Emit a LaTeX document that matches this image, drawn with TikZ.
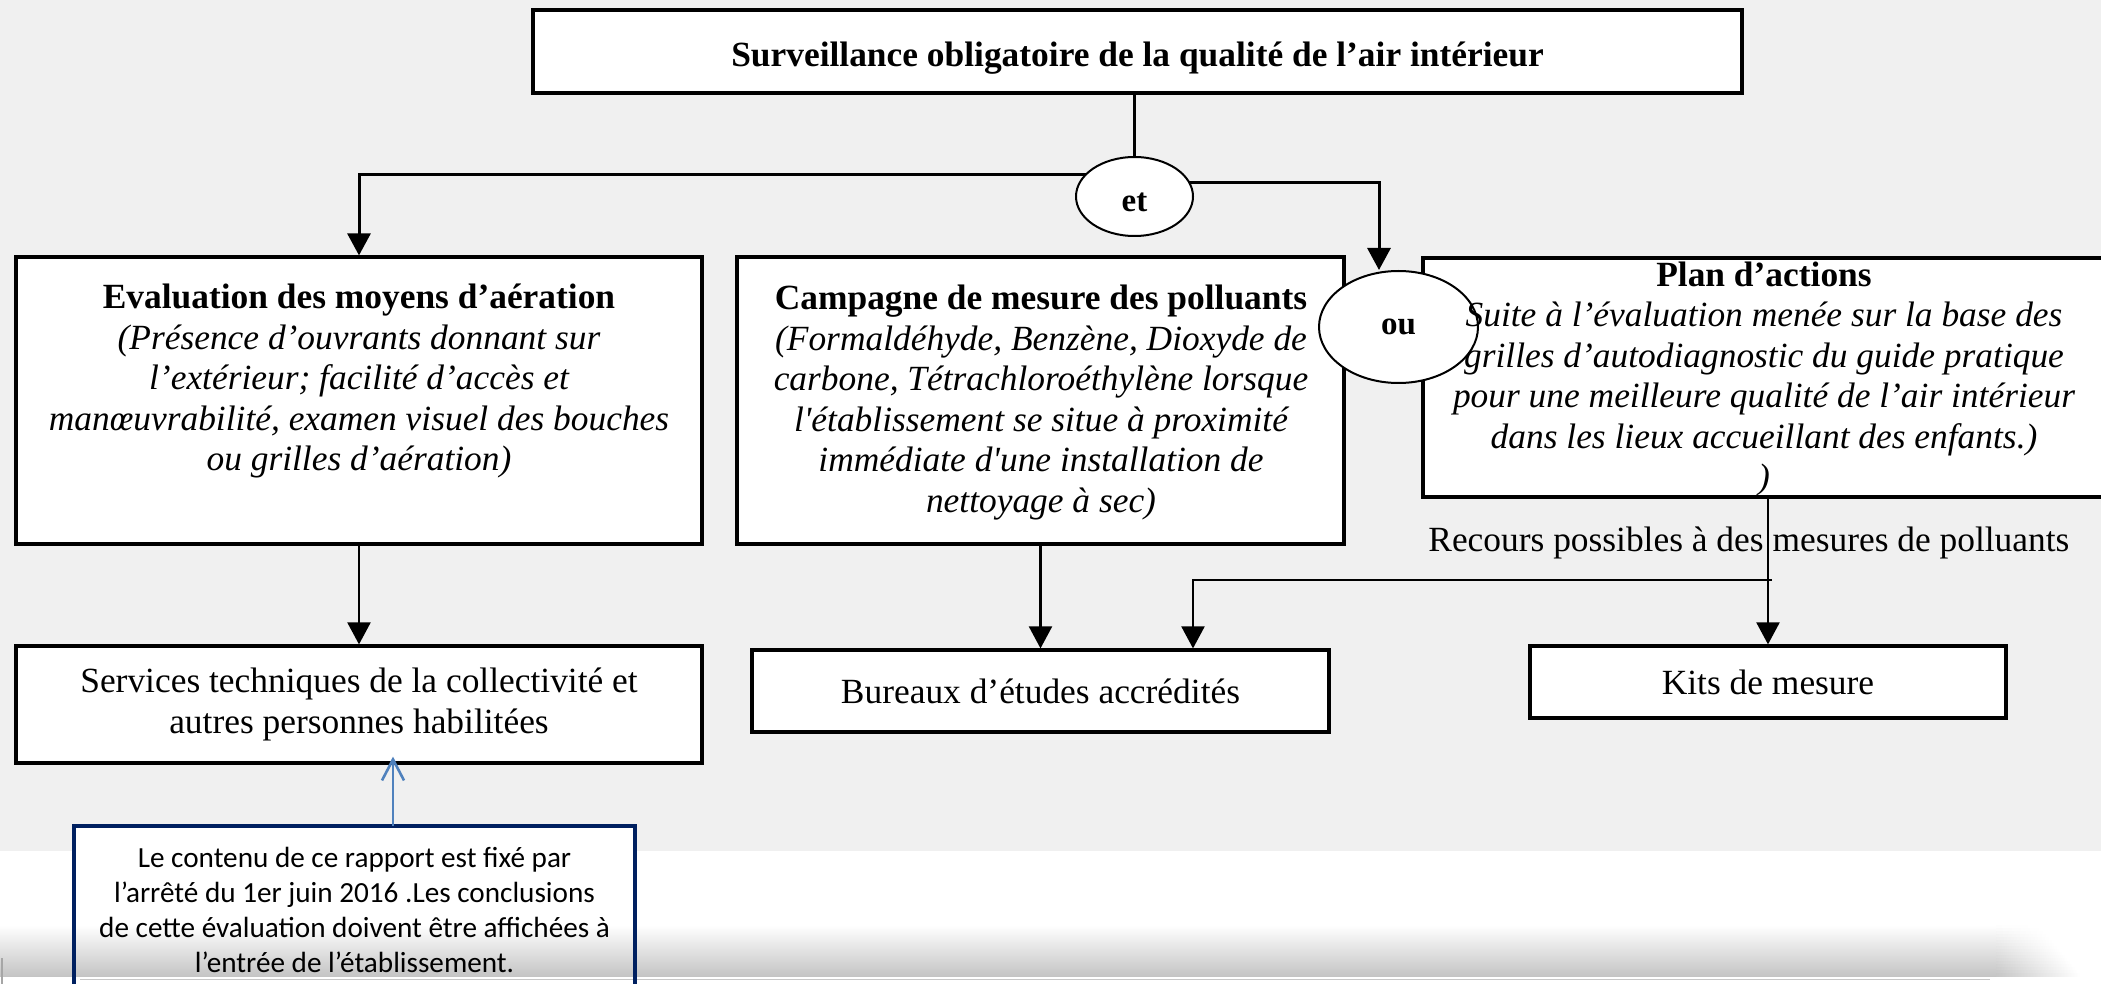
\documentclass[tikz,border=0pt]{standalone}
\usepackage{fontspec}
\setmainfont{Liberation Serif}[Ligatures=TeXOff]
\newfontfamily\calibri{Carlito}
\usetikzlibrary{shapes.geometric,arrows.meta,calc}
\pgfdeclarelayer{bg}
\pgfdeclarelayer{conn}
\pgfsetlayers{bg,conn,main}
\definecolor{bggray}{RGB}{240,240,240}
\definecolor{navy}{RGB}{0,32,96}
\definecolor{offblue}{RGB}{79,129,189}
\begin{document}
\begin{tikzpicture}[x=0.5pt,y=-0.5pt,
  box/.style={draw, line width=1.6pt, fill=white, inner sep=0pt, rectangle, align=center,
    font=\fontsize{17.7}{20.25}\selectfont},
  txt/.style={inner sep=0pt, align=center, font=\fontsize{17.7}{20.25}\selectfont},
  oval/.style={ellipse, draw, fill=white, line width=1pt, inner sep=0pt,
    font=\fontsize{16.5}{18}\selectfont\bfseries},
  arr/.style={-{Triangle[length=11pt,width=11.5pt]}},
  lnup/.style={line width=1.5pt},
  ln/.style={line width=1.1pt}]
\useasboundingbox (0,0) rectangle (2101,984);
\clip (0,0) rectangle (2101,984);
\begin{pgfonlayer}{bg}
\fill[bggray] (0,0) rectangle (2101,851);
\end{pgfonlayer}

% top box
\node[box, minimum width=604.5pt, minimum height=41.5pt] (top) at (1137.5,51.5) {};
\node[txt, font=\fontsize{17.7}{20.25}\selectfont\bfseries] (toptext) at (1137.5,58)
  {Surveillance obligatoire de la qualité de l’air intérieur};

% three main boxes
\node[box, minimum width=343pt, minimum height=143.5pt] (lbox) at (359,400.5) {};
\node[txt] (ltext) at (359,381) {{\bfseries Evaluation des moyens d’aération}\\
  \itshape (Présence d’ouvrants donnant sur\\
  \itshape l’extérieur; facilité d’accès et\\
  \itshape manœuvrabilité, examen visuel des bouches\\
  \itshape ou grilles d’aération)};

\node[box, minimum width=303.5pt, minimum height=143.5pt] (mbox) at (1040.5,400.5) {};
\node[txt] (mtext) at (1041,402.5) {{\bfseries Campagne de mesure des polluants}\\
  \itshape (Formaldéhyde, Benzène, Dioxyde de\\
  \itshape carbone, Tétrachloroéthylène lorsque\\
  \itshape l'établissement se situe à proximité\\
  \itshape immédiate d'une installation de\\
  \itshape nettoyage à sec)};

\node[box, minimum width=341.5pt, minimum height=119.5pt] (pbox) at (1764.5,377.5) {};
\node[oval, minimum width=79.5pt, minimum height=56pt] (ou) at (1398.5,327) {ou};
\node[txt] (ptext) at (1764,379) {{\bfseries Plan d’actions}\\
  \itshape Suite à l’évaluation menée sur la base des\\
  \itshape grilles d’autodiagnostic du guide pratique\\
  \itshape pour une meilleure qualité de l’air intérieur\\
  \itshape dans les lieux accueillant des enfants.)\\
  \itshape )};

\node[oval, minimum width=58.5pt, minimum height=39.5pt, text height=15pt, text depth=0pt]
  (et) at (1134.5,196.5) {et};

% lower boxes
\node[box, minimum width=343pt, minimum height=58.5pt] (sbox) at (359,704.5)
  {Services techniques de la collectivité et\\autres personnes habilitées};
\node[box, minimum width=288.5pt, minimum height=41pt] (bur) at (1040.5,691)
  {Bureaux d’études accrédités};
\node[box, minimum width=238pt, minimum height=36pt] (kits) at (1768,682)
  {Kits de mesure};
\node[txt, anchor=base west] (recours) at (1428,552)
  {Recours possibles à des mesures de polluants};

% connectors
\begin{pgfonlayer}{conn}
\draw[lnup] (top.south -| et.north) -- (et.north);
\draw[lnup, arr] ([yshift=10.75pt]et.center) -| (lbox.north);
\draw[lnup, arr] ([yshift=7pt]et.center) -| ([xshift=-9.75pt]ou.north);
\draw[ln, arr] (lbox.south) -- (sbox.north);
\draw[ln, arr] (mbox.south) -- (bur.north);
\draw[ln, arr] (kits.north |- pbox.south) -- (kits.north);
\coordinate (branch) at (1772,580);
\draw[ln, arr] (branch) -| ([xshift=76.25pt]bur.north);
\end{pgfonlayer}

% callout fill
\node[fill=white, minimum width=280.5pt, minimum height=92pt, inner sep=0pt]
  (callout) at (354.5,918) {};

% bottom shadow band (opaque)
\shade[top color=white, bottom color=black!23] (0,925) rectangle (2001,976);
\foreach \i in {0,...,16} {
  \pgfmathsetmacro{\lev}{23*(\i+0.5)/17}
  \pgfmathsetmacro{\ya}{925+3*\i}
  \pgfmathsetmacro{\yb}{925+3*\i+3.4}
  \pgfmathsetmacro{\xb}{2040+2.5*\i}
  \shade[left color=black!\lev, right color=white] (1996,\ya) rectangle (\xb,\yb);
}
\draw[black!22, line width=0.5pt] (80,979.5) -- (1990,979.5);
\draw[black!35, line width=1pt] (2,958) -- (2,984);

% callout border, arrow and text
\draw[navy, line width=2pt] (callout.south west) rectangle (callout.north east);
\draw[offblue, line width=0.6pt, -{Straight Barb[length=10.5pt,width=11pt,line width=1.3pt]}]
  ([xshift=19.25pt]callout.north) -- ([xshift=17pt,yshift=4pt]sbox.south);
\node[inner sep=0pt, align=center, font=\calibri\fontsize{14.6}{17.65}\selectfont]
  (ctext) at (354.5,910) {Le contenu de ce rapport est fixé par\\
  l’arrêté du 1er juin 2016 .Les conclusions\\
  de cette évaluation doivent être affichées à\\
  l’entrée de l’établissement.};
\end{tikzpicture}
\end{document}
